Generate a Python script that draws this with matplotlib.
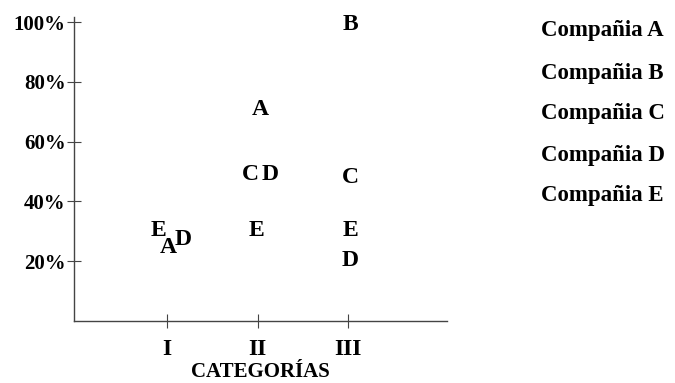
import matplotlib.pyplot as plt

# categorías I, II, III -> 1, 2, 3 (letras algo desplazadas donde se solapan)
categorias = ['I', 'II', 'III']
cat_pos = [1, 2, 3]
porcentajes = [20, 40, 60, 80, 100]

companias = ['A', 'B', 'C', 'D', 'E']
comp_x = {
    'A': [1.01, 2.03],
    'B': [3.02],
    'C': [1.92, 3.02],
    'D': [1.18, 2.14, 3.02],
    'E': [0.90, 1.99, 3.02],
}
comp_y = {
    'A': [25.5, 71.5],
    'B': [100],
    'C': [50, 49],
    'D': [28, 50, 21],
    'E': [31, 31, 31],
}

plt.rcParams['font.family'] = ['Liberation Serif', 'DejaVu Serif']
plt.rcParams['font.weight'] = 'bold'

fig = plt.figure(figsize=(6.75, 3.83), dpi=100)
ax = fig.add_axes([0.1096, 0.1619, 0.662 - 0.1096, 0.9556 - 0.1619])

for c in companias:
    for x, y in zip(comp_x[c], comp_y[c]):
        ax.text(x, y, c, fontsize=17, fontweight='bold', ha='center',
                va='center_baseline')

ax.set_xlim(-0.03, 4.09)
ax.set_ylim(0, 101.7)
ax.set_xticks(cat_pos)
ax.set_xticklabels(categorias, fontsize=17, fontweight='bold')
ax.set_yticks(porcentajes)
ax.set_yticklabels([f'{p}%' for p in porcentajes], fontsize=15, fontweight='bold')
ax.tick_params(axis='both', direction='inout', length=10, width=0.8, color='#444444')
ax.tick_params(axis='y', pad=1)
ax.tick_params(axis='x', pad=8)
for s in ['top', 'right']:
    ax.spines[s].set_visible(False)
for s in ['left', 'bottom']:
    ax.spines[s].set_color('#444444')
    ax.spines[s].set_linewidth(1.0)
ax.set_xlabel('CATEGORÍAS', fontsize=15, fontweight='bold', labelpad=1.5)

# leyenda como texto a la derecha
leg_y = [28, 71, 111, 153, 193]
for c, py in zip(companias, leg_y):
    fig.text(541 / 675, 1 - py / 383, f'Compañia {c}', fontsize=16.5,
             fontweight='bold', ha='left', va='center_baseline')

fig.savefig('out.png', dpi=100)
